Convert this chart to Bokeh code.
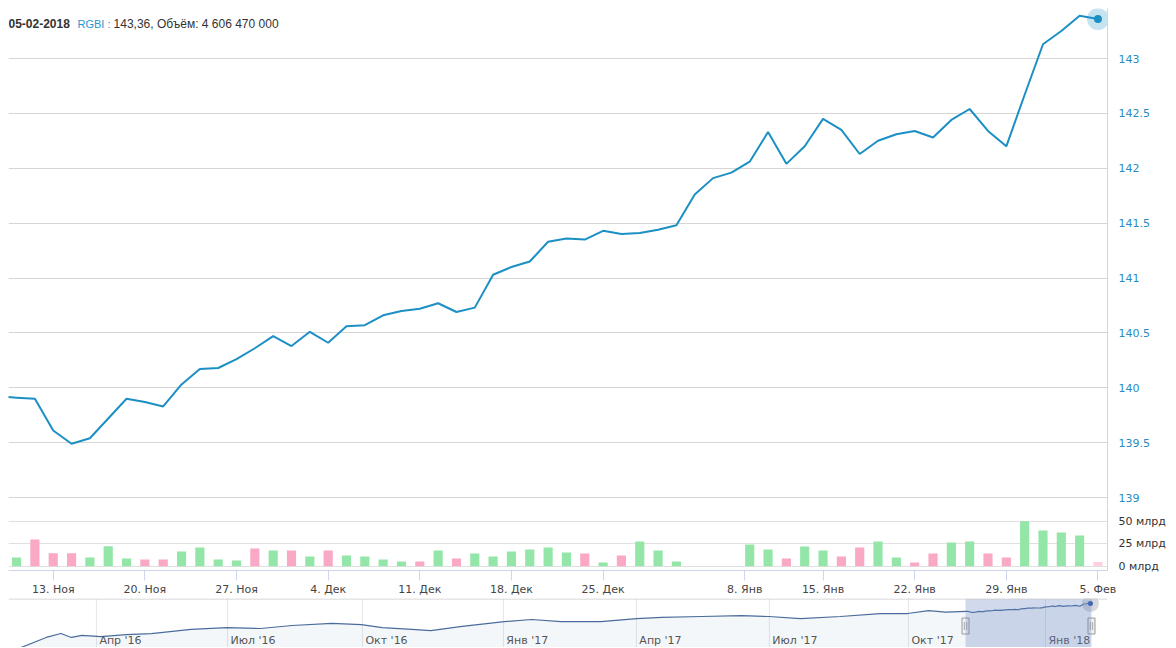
from bokeh.plotting import figure
from bokeh.layouts import column
from bokeh.models import (Range1d, FixedTicker, CustomJSTickFormatter, Label, Span,
                          BoxAnnotation, ColumnDataSource)
from bokeh.embed import file_html
from bokeh.resources import INLINE
from bokeh.core.properties import value

# ---------------- data ----------------
dates = [
    "2017-11-08", "2017-11-09", "2017-11-10",
    "2017-11-13", "2017-11-14", "2017-11-15", "2017-11-16", "2017-11-17",
    "2017-11-20", "2017-11-21", "2017-11-22", "2017-11-23", "2017-11-24",
    "2017-11-27", "2017-11-28", "2017-11-29", "2017-11-30", "2017-12-01",
    "2017-12-04", "2017-12-05", "2017-12-06", "2017-12-07", "2017-12-08",
    "2017-12-11", "2017-12-12", "2017-12-13", "2017-12-14", "2017-12-15",
    "2017-12-18", "2017-12-19", "2017-12-20", "2017-12-21", "2017-12-22",
    "2017-12-25", "2017-12-26", "2017-12-27", "2017-12-28", "2017-12-29",
    "2018-01-03", "2018-01-04", "2018-01-05",
    "2018-01-09", "2018-01-10", "2018-01-11", "2018-01-12",
    "2018-01-15", "2018-01-16", "2018-01-17", "2018-01-18", "2018-01-19",
    "2018-01-22", "2018-01-23", "2018-01-24", "2018-01-25", "2018-01-26",
    "2018-01-29", "2018-01-30", "2018-01-31", "2018-02-01", "2018-02-02",
    "2018-02-05",
]

rgbi = [
    139.92,
    139.91, 139.90,
    139.61, 139.49, 139.54, 139.72, 139.90,
    139.87, 139.83, 140.03, 140.17, 140.18,
    140.26, 140.36, 140.47, 140.38, 140.51,
    140.41, 140.56, 140.57, 140.66, 140.70,
    140.72, 140.77, 140.69, 140.73, 141.03,
    141.10, 141.15, 141.33, 141.36, 141.35,
    141.43, 141.40, 141.41, 141.44, 141.48,
    141.76, 141.91, 141.96,
    142.06, 142.33, 142.04, 142.20,
    142.45, 142.35, 142.13, 142.25, 142.31,
    142.34, 142.28, 142.44, 142.54, 142.34,
    142.20, 142.67, 143.13, 143.25, 143.39,
    143.36,
]

# volume, billions of roubles (None = not shown)
volume_bn = [
    None,
    9.6, 29.6,
    14.4, 14.4, 9.6, 22.2, 8.5,
    7.4, 7.4, 16.3, 20.7, 7.4,
    6.3, 19.6, 17.4, 17.4, 10.7,
    17.4, 11.9, 10.7, 7.4, 5.2,
    5.2, 17.4, 8.5, 14.1, 10.7,
    16.3, 18.5, 20.7, 15.2, 14.1,
    4.1, 11.9, 27.4, 17.4, 5.2,
    0.0, 0.0, 0.0,
    24.1, 18.5, 8.5, 21.9,
    17.4, 10.7, 20.7, 27.4, 9.6,
    4.1, 14.1, 26.3, 27.4, 14.1,
    9.6, 50.0, 39.6, 37.4, 34.1,
    4.61,
]

# day direction for volume colouring: u = up (green), d = down (pink), h = hovered
up_down = ["-",
           "u", "d",
           "d", "d", "u", "u", "u",
           "d", "d", "u", "u", "u",
           "u", "d", "u", "d", "u",
           "d", "u", "u", "u", "u",
           "d", "u", "d", "u", "u",
           "u", "u", "u", "u", "d",
           "u", "d", "u", "u", "u",
           "-", "-", "-",
           "u", "u", "d", "u",
           "u", "d", "d", "u", "u",
           "d", "d", "u", "u", "d",
           "d", "u", "u", "u", "u",
           "h"]

last_volume_rub = 4606470000

tick_pos = [2, 7, 12, 17, 22, 27, 32, 39.73, 44, 49, 54, 59]
tick_lab = ["13. Ноя", "20. Ноя", "27. Ноя", "4. Дек", "11. Дек", "18. Дек",
            "25. Дек", "8. Янв", "15. Янв", "22. Янв", "29. Янв", "5. Фев"]

price_ticks = [139, 139.5, 140, 140.5, 141, 141.5, 142, 142.5, 143]
volume_ticks = [0, 25, 50]

# navigator history (ordinal trading-day position relative to 2017-11-09, RGBI)
nav_hist_pos = [-456, -450, -438, -431, -426, -421, -412, -400, -388, -369, -352,
                -336, -321, -302, -288, -278, -264, -255, -240, -220, -207, -193,
                -174, -157, -145, -126, -107, -94, -79, -60, -41, -28, -18, -10]
nav_hist_val = [123.4, 124.2, 128.6, 130.3, 128.6, 129.5, 129.0, 129.8, 130.3, 132.1, 132.9,
                132.5, 133.8, 134.7, 134.2, 132.9, 132.1, 131.6, 133.4, 135.5, 136.4, 135.5,
                135.5, 136.8, 137.3, 137.7, 138.1, 137.7, 136.8, 137.7, 139.0, 139.0, 140.3, 139.6]
nav_tick_pos = [-414.1, -351.7, -287.5, -220.4, -157.1, -93.8, -27.6, 37.6]
nav_tick_lab = ["Апр '16", "Июл '16", "Окт '16", "Янв '17", "Апр '17", "Июл '17",
                "Окт '17", "Янв '18"]

# ---------------- derived ----------------
pos = list(range(-1, len(dates) - 1))

GREEN = "#93e6a8"
PINK = "#f9a8c6"
PINK_H = "#fcd0e0"
LINE = "#1c8fc4"

vx, vtop, vcol = [], [], []
for p_, v_, d_ in zip(pos, volume_bn, up_down):
    if v_ is None:
        continue
    vx.append(p_)
    vtop.append(v_)
    vcol.append(GREEN if d_ == "u" else (PINK_H if d_ == "h" else PINK))
vsrc = ColumnDataSource(dict(x=vx, top=vtop, color=vcol))

# pixel geometry helpers (layout only)
LB = 8               # left border
TB = 8               # top border
DX = 18.32           # px per trading day, main chart
PY = 109.75          # px per RGBI point, price pane
x_lo, x_hi = -0.44, 59.52
y_hi = 143 + 50 / PY
y_lo = 139 - 8 / PY
VY = 0.9
v_hi = 60.7 / VY
v_lo = -4.3 / VY
NX = 2.101
NY = 2.3
n_x_lo = x_lo - 957 / NX
n_x_hi = x_hi + 16 / NX
n_hi = rgbi[-1] + 5 / NY
n_lo = rgbi[-1] - 44 / NY

FW = 1099
RB = 61
AXC = "#ccd6eb"
GRID = "#e0e0e0"

# ---------------- price pane ----------------
p1 = figure(frame_width=FW, frame_height=497, x_range=Range1d(x_lo, x_hi),
            y_range=Range1d(y_lo, y_hi), output_backend="svg", toolbar_location=None,
            x_axis_location=None, y_axis_location="right",
            min_border_left=LB, min_border_right=RB, min_border_top=TB, min_border_bottom=0)
p1.outline_line_color = None
p1.xgrid.visible = False
p1.yaxis.ticker = FixedTicker(ticks=price_ticks)
p1.ygrid.ticker = FixedTicker(ticks=price_ticks)
p1.ygrid.grid_line_color = "#d6d6d6"
p1.yaxis.formatter = CustomJSTickFormatter(code="return String(tick);")
p1.yaxis.major_tick_line_color = None
p1.yaxis.minor_tick_line_color = None
p1.yaxis.axis_line_color = AXC
p1.yaxis.major_label_text_color = "#2a8cc0"
p1.yaxis.major_label_text_font = "DejaVu Sans"
p1.yaxis.major_label_text_font_size = "11px"
p1.yaxis.major_label_standoff = 5

p1.line(x=pos, y=rgbi, line_color=LINE, line_width=2)
p1.scatter(x=[pos[-1]], y=[rgbi[-1]], size=22, fill_color=LINE, fill_alpha=0.25, line_color=None)
p1.scatter(x=[pos[-1]], y=[rgbi[-1]], size=8, fill_color=LINE, line_color=None)

d = dates[-1].split("-")
date_txt = f"{d[2]}-{d[1]}-{d[0]}"
vol_txt = f"{last_volume_rub:,}".replace(",", " ")
val_txt = f"{rgbi[-1]:.2f}".replace(".", ",") + ", Объём: " + vol_txt
hy = y_hi - 15 / PY
p1.add_layout(Label(x=x_lo, y=hy, text=date_txt, text_font="Liberation Sans",
                    text_font_size="12px", text_font_style="bold", text_color="#333333",
                    text_baseline="middle", text_align="left"))
p1.add_layout(Label(x=x_lo + 69 / DX, y=hy, text="RGBI :", text_font="Liberation Sans",
                    text_font_size="11px", text_color="#1f97d0",
                    text_baseline="middle", text_align="left"))
p1.add_layout(Label(x=x_lo + 105 / DX, y=hy, text=val_txt, text_font="Liberation Sans",
                    text_font_size="12px", text_color="#333333",
                    text_baseline="middle", text_align="left"))

# ---------------- volume pane ----------------
p2 = figure(frame_width=FW, frame_height=65, x_range=p1.x_range,
            y_range=Range1d(v_lo, v_hi), output_backend="svg", toolbar_location=None,
            x_axis_location="below", y_axis_location="right",
            min_border_left=LB, min_border_right=RB, min_border_top=0, min_border_bottom=27)
p2.outline_line_color = None
p2.xgrid.visible = False
p2.yaxis.ticker = FixedTicker(ticks=volume_ticks)
p2.ygrid.ticker = FixedTicker(ticks=volume_ticks)
p2.ygrid.grid_line_color = GRID
p2.yaxis.formatter = CustomJSTickFormatter(code="return tick + ' млрд';")
p2.yaxis.major_tick_line_color = None
p2.yaxis.minor_tick_line_color = None
p2.yaxis.axis_line_color = AXC
p2.yaxis.major_label_text_color = "#333333"
p2.yaxis.major_label_text_font = "DejaVu Sans"
p2.yaxis.major_label_text_font_size = "11px"
p2.yaxis.major_label_standoff = 5

p2.xaxis.ticker = FixedTicker(ticks=tick_pos)
p2.xaxis.formatter = CustomJSTickFormatter(args=dict(pos=tick_pos, lab=tick_lab), code="""
let best = 0, dd = 1e9;
for (let i = 0; i < pos.length; i++) { const e = Math.abs(pos[i] - tick); if (e < dd) { dd = e; best = i; } }
return lab[best];""")
p2.xaxis.axis_line_color = AXC
p2.xaxis.major_tick_line_color = AXC
p2.xaxis.major_tick_out = 10
p2.xaxis.major_tick_in = 0
p2.xaxis.minor_tick_line_color = None
p2.xaxis.major_label_text_color = "#444444"
p2.xaxis.major_label_text_font = "DejaVu Sans"
p2.xaxis.major_label_text_font_size = "11px"
p2.xaxis.major_label_standoff = 2

p2.vbar(x="x", top="top", width=0.5, fill_color="color", line_color=None, source=vsrc)

# ---------------- navigator ----------------
p3 = figure(frame_width=FW, frame_height=49, x_range=Range1d(n_x_lo, n_x_hi),
            y_range=Range1d(n_lo, n_hi), output_backend="svg", toolbar_location=None,
            x_axis_location=None, y_axis_location=None,
            min_border_left=LB, min_border_right=RB, min_border_top=0, min_border_bottom=0)
p3.outline_line_color = None
p3.grid.visible = False

nav_pos = nav_hist_pos + pos[1:]
nav_val = nav_hist_val + rgbi[1:]

p3.segment(x0=nav_tick_pos, y0=[n_lo] * len(nav_tick_pos), x1=nav_tick_pos,
           y1=[n_hi] * len(nav_tick_pos), line_color="#e6e6e6", line_width=1)
p3.varea(x=nav_pos, y1=[n_lo] * len(nav_pos), y2=nav_val, fill_color="#4572a7", fill_alpha=0.06)
p3.line(x=nav_pos, y=nav_val, line_color="#4a6c9c", line_width=1.2)
p3.add_layout(BoxAnnotation(left=x_lo, right=x_hi, fill_color="#6685c2", fill_alpha=0.3,
                            line_color=None))
p3.add_layout(Span(location=n_hi - 0.5 / NY, dimension="width", line_color="#cccccc", line_width=1))
p3.text(x=[t + 3 / NX for t in nav_tick_pos], y=[n_lo + 1 / NY] * len(nav_tick_pos),
        text=nav_tick_lab, text_font=value("DejaVu Sans"), text_font_size="11px",
        text_color="#555555", text_baseline="bottom", text_align="left")

hdl_y = n_hi - 27.5 / NY
p3.rect(x=[x_lo, x_hi], y=[hdl_y, hdl_y], width=7, height=16, width_units="screen",
        height_units="screen", fill_color="#f2f2f2", line_color="#999999")
hx0 = []
for cx in (x_lo, x_hi):
    for off in (-1.2, 1.2):
        hx0.append(cx + off / NX)
p3.segment(x0=hx0, y0=[hdl_y - 4 / NY] * 4, x1=hx0, y1=[hdl_y + 4 / NY] * 4,
           line_color="#aaaaaa", line_width=1)

p3.scatter(x=[pos[-1]], y=[rgbi[-1]], size=17, fill_color="#8a8f99", fill_alpha=0.35, line_color=None)
p3.scatter(x=[pos[-1]], y=[rgbi[-1]], size=5, fill_color="#335cad", line_color=None)

layout = column(p1, p2, p3, spacing=0)
open("out.html", "w").write(file_html(layout, INLINE))
